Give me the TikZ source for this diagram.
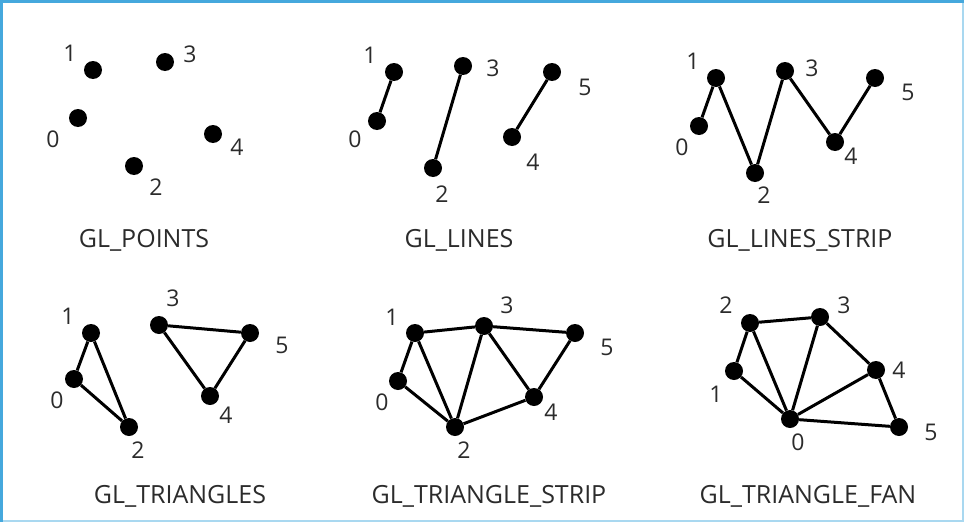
\documentclass[tikz,border=0pt]{standalone}
\usepackage{fontspec}
\setmainfont{Open Sans}
\usepackage{tikz}
\definecolor{FrameBlue}{HTML}{45A8DD}
\definecolor{FrameLight}{HTML}{A9D8F0}
\definecolor{InkText}{HTML}{2B2B2B}
\tikzset{
  vtx/.style={circle, fill=black, inner sep=0pt, minimum size=18pt},
  num/.style={text=InkText, font=\fontsize{23}{25}\selectfont, inner sep=0pt},
  mode/.style={text=InkText, font=\fontsize{25}{27}\selectfont, inner sep=0pt},
  edge/.style={line width=3pt, black}
}
\begin{document}
\begin{tikzpicture}[x=1pt, y=-1pt]
  \useasboundingbox (0,0) rectangle (964,522);
  \fill[white] (0,0) rectangle (964,522);
  % frame
  \draw[FrameLight, line width=2pt] (0,521) -- (963,521) -- (963,0);
  \draw[FrameBlue, line width=3pt] (1.5,522) -- (1.5,1.5) -- (964,1.5);

  % GL_POINTS
  \foreach \n/\x/\y/\lx/\ly in {0/78/118/53/139, 1/93/70/70/53, 2/134/166/156/187, 3/165/62/190/54, 4/213/134/237/147}{
    \node[vtx] (p\n) at (\x,\y) {};
    \node[num] (p\n-t) at (\lx,\ly) {\n};
  }
  \node[mode] (points) at (144,240) {GL\_POINTS};

  % GL_LINES
  \foreach \n/\x/\y/\lx/\ly in {0/377/121/355/139, 1/394/72/370/55, 2/433/168/442/194, 3/463/66/493/68, 4/512/137/533/162, 5/552/72/585/87}{
    \node[vtx] (l\n) at (\x,\y) {};
    \node[num] (l\n-t) at (\lx,\ly) {\n};
  }
  \draw[edge] (l0) -- (l1);
  \draw[edge] (l2) -- (l3);
  \draw[edge] (l4) -- (l5);
  \node[mode] (lines) at (459,240) {GL\_LINES};

  % GL_LINES_STRIP
  \foreach \n/\x/\y/\lx/\ly in {0/699/126/682/147, 1/716/78/693/61, 2/755/173/764/195, 3/785/71/812/68, 4/835/142/851/156, 5/875/78/908/92}{
    \node[vtx] (s\n) at (\x,\y) {};
    \node[num] (s\n-t) at (\lx,\ly) {\n};
  }
  \draw[edge] (s0) -- (s1) -- (s2) -- (s3) -- (s4) -- (s5);
  \node[mode] (strip) at (800,240) {GL\_LINES\_STRIP};

  % GL_TRIANGLES
  \foreach \n/\x/\y/\lx/\ly in {0/74/379/57/400, 1/91/333/68/316, 2/129/427/138/450, 3/159/325/173/298, 4/210/396/226/415, 5/250/333/282/345}{
    \node[vtx] (t\n) at (\x,\y) {};
    \node[num] (t\n-t) at (\lx,\ly) {\n};
  }
  \draw[edge] (t0) -- (t1) -- (t2) -- (t0);
  \draw[edge] (t3) -- (t5) -- (t4) -- (t3);
  \node[mode] (tris) at (180,496) {GL\_TRIANGLES};

  % GL_TRIANGLE_STRIP
  \foreach \n/\x/\y/\lx/\ly in {0/398/381/382/402, 1/415/333/392/317, 2/455/427/464/450, 3/484/326/507/305, 4/534/397/551/412, 5/575/333/607/347}{
    \node[vtx] (ts\n) at (\x,\y) {};
    \node[num] (ts\n-t) at (\lx,\ly) {\n};
  }
  \draw[edge] (ts0) -- (ts1) -- (ts3) -- (ts5) -- (ts4) -- (ts2) -- (ts0);
  \draw[edge] (ts1) -- (ts2) -- (ts3) -- (ts4);
  \node[mode] (tstrip) at (489,496) {GL\_TRIANGLE\_STRIP};

  % GL_TRIANGLE_FAN
  \foreach \n/\x/\y/\lx/\ly in {0/790/419/798/442, 1/734/371/716/394, 2/750/323/726/305, 3/820/317/844/305, 4/876/370/899/370, 5/899/427/931/432}{
    \node[vtx] (f\n) at (\x,\y) {};
    \node[num] (f\n-t) at (\lx,\ly) {\n};
  }
  \draw[edge] (f1) -- (f2) -- (f3) -- (f4) -- (f5);
  \foreach \k in {1,...,5}{
    \draw[edge] (f0) -- (f\k);
  }
  \node[mode] (fan) at (808,496) {GL\_TRIANGLE\_FAN};
\end{tikzpicture}
\end{document}
